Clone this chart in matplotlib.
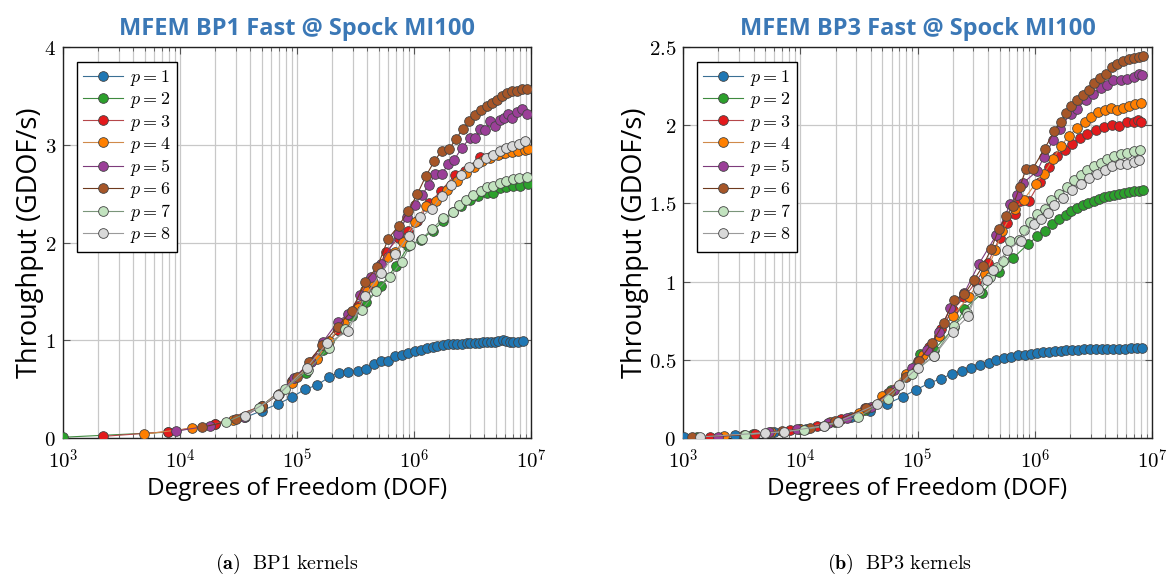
import numpy as np
import matplotlib.pyplot as plt
from matplotlib.ticker import LogLocator, FixedLocator, NullFormatter

plt.rcParams['mathtext.fontset'] = 'cm'

# ---- data (x stored as log10 of DOF, y in GDOF/s) ----
bp1_p1_x = [4.556, 4.70, 4.84, 4.96, 5.07, 5.17, 5.27, 5.36, 5.44, 5.52, 5.59, 5.66, 5.72, 5.78, 5.84,
            5.90, 5.95, 6.01, 6.06, 6.11, 6.16, 6.20, 6.25, 6.29, 6.33, 6.37, 6.41, 6.45, 6.48, 6.52,
            6.56, 6.59, 6.62, 6.66, 6.69, 6.72, 6.76, 6.79, 6.82, 6.85, 6.89, 6.93]
bp1_p1_y = [0.21, 0.28, 0.35, 0.42, 0.50, 0.54, 0.62, 0.67, 0.68, 0.69, 0.71, 0.76, 0.79, 0.79, 0.84,
            0.85, 0.87, 0.89, 0.90, 0.92, 0.93, 0.94, 0.95, 0.96, 0.96, 0.96, 0.96, 0.97, 0.97, 0.97,
            0.97, 0.98, 0.98, 0.98, 0.98, 0.99, 1.00, 0.99, 0.98, 0.98, 0.98, 0.99]
bp1_p2_x = [3.0, 3.9, 4.3, 4.7, 4.96, 5.074, 5.22, 5.35, 5.47, 5.59, 5.72, 5.846, 5.952, 6.06, 6.16,
            6.25, 6.33, 6.40, 6.479, 6.55, 6.62, 6.678, 6.735, 6.79, 6.85, 6.906, 6.974]
bp1_p2_y = [0.008, 0.06, 0.14, 0.33, 0.58, 0.665, 0.90, 1.10, 1.25, 1.39, 1.56, 1.76, 1.96, 2.03, 2.12,
            2.22, 2.31, 2.37, 2.43, 2.48, 2.51, 2.51, 2.56, 2.57, 2.58, 2.58, 2.60]
bp1_p3_x = [3.344, 3.9, 4.3, 4.7, 4.96, 5.17, 5.35, 5.52, 5.63, 5.76, 5.87, 5.948, 6.03, 6.13, 6.23,
            6.352, 6.44, 6.565, 6.65, 6.75, 6.85, 6.95]
bp1_p3_y = [0.017, 0.065, 0.14, 0.33, 0.58, 0.82, 1.10, 1.35, 1.58, 1.90, 2.05, 2.12, 2.22, 2.40, 2.53,
            2.69, 2.73, 2.87, 2.88, 2.92, 2.94, 2.96]
bp1_p4_x = [3.695, 4.1, 4.45, 4.70, 4.959, 5.169, 5.27, 5.40, 5.519, 5.582, 5.652, 5.78, 5.84, 5.902,
            6.008, 6.099, 6.192, 6.284, 6.366, 6.443, 6.517, 6.585, 6.65, 6.716, 6.778, 6.835, 6.892,
            6.946, 6.974]
bp1_p4_y = [0.04, 0.10, 0.18, 0.32, 0.566, 0.805, 0.99, 1.18, 1.33, 1.51, 1.60, 1.85, 1.90, 2.01,
            2.21, 2.37, 2.42, 2.54, 2.63, 2.71, 2.77, 2.83, 2.86, 2.90, 2.92, 2.93, 2.94, 2.95, 2.96]
bp1_p5_x = [3.966, 4.254, 4.55, 4.84, 4.973, 5.121, 5.22, 5.348, 5.44, 5.54, 5.633, 5.718, 5.866, 5.937,
            6.005, 6.068, 6.13, 6.181, 6.238, 6.292, 6.341, 6.409, 6.48, 6.525, 6.567, 6.61, 6.653,
            6.693, 6.735, 6.772, 6.801, 6.84, 6.881, 6.926, 6.963]
bp1_p5_y = [0.07, 0.126, 0.22, 0.44, 0.617, 0.78, 0.98, 1.19, 1.27, 1.46, 1.65, 1.78, 2.09, 2.26,
            2.38, 2.49, 2.59, 2.70, 2.70, 2.80, 2.84, 2.97, 3.07, 3.07, 3.16, 3.15, 3.24,
            3.19, 3.25, 3.27, 3.32, 3.27, 3.34, 3.37, 3.32]
bp1_p6_x = [4.19, 4.48, 4.70, 4.85, 5.0, 5.1, 5.215, 5.348, 5.467, 5.584, 5.687, 5.780, 5.868, 5.951,
            6.030, 6.102, 6.173, 6.238, 6.303, 6.358, 6.417, 6.474, 6.525, 6.574, 6.622, 6.667, 6.713,
            6.755, 6.798, 6.838, 6.881, 6.923, 6.963]
bp1_p6_y = [0.11, 0.19, 0.33, 0.45, 0.62, 0.78, 0.95, 1.14, 1.30, 1.60, 1.75, 2.04, 2.17, 2.32,
            2.50, 2.68, 2.83, 2.94, 2.96, 3.06, 3.16, 3.24, 3.30, 3.36, 3.40, 3.43, 3.46,
            3.50, 3.53, 3.55, 3.55, 3.57, 3.57]
bp1_p7_x = [4.39, 4.672, 4.90, 5.097, 5.27, 5.413, 5.553, 5.675, 5.795, 5.894, 5.966, 6.066, 6.157,
            6.25, 6.336, 6.385, 6.444, 6.507, 6.57, 6.627, 6.678, 6.735, 6.786, 6.843, 6.9, 6.963]
bp1_p7_y = [0.16, 0.31, 0.505, 0.70, 0.92, 1.12, 1.31, 1.50, 1.65, 1.80, 1.97, 2.04, 2.14,
            2.25, 2.31, 2.38, 2.43, 2.49, 2.53, 2.57, 2.58, 2.61, 2.63, 2.65, 2.66, 2.67]
bp1_p8_x = [4.556, 4.838, 5.083, 5.258, 5.433, 5.584, 5.718, 5.84, 5.954, 6.053, 6.15, 6.238, 6.32,
            6.4, 6.474, 6.545, 6.613, 6.673, 6.733, 6.789, 6.84, 6.895, 6.951]
bp1_p8_y = [0.23, 0.44, 0.72, 0.97, 1.09, 1.45, 1.69, 1.88, 2.07, 2.26, 2.34, 2.48, 2.59,
            2.69, 2.77, 2.81, 2.86, 2.90, 2.94, 2.97, 2.99, 3.01, 3.04]

bp3_p1_x = [3.006, 3.44, 3.773, 4.046, 4.43, 4.597, 4.74, 4.873, 4.99, 5.098, 5.2, 5.295, 5.38, 5.458,
            5.532, 5.606, 5.671, 5.737, 5.80, 5.86, 5.917, 5.971, 6.022, 6.07, 6.12, 6.17, 6.22, 6.27,
            6.32, 6.37, 6.42, 6.47, 6.52, 6.57, 6.62, 6.67, 6.72, 6.77, 6.82, 6.87, 6.915]
bp3_p1_y = [0.005, 0.017, 0.04, 0.06, 0.134, 0.173, 0.22, 0.263, 0.31, 0.35, 0.38, 0.41, 0.427, 0.449,
            0.468, 0.48, 0.496, 0.509, 0.52, 0.528, 0.534, 0.54, 0.545, 0.549, 0.553, 0.556, 0.559,
            0.561, 0.563, 0.565, 0.566, 0.567, 0.568, 0.569, 0.570, 0.571, 0.572, 0.572, 0.573,
            0.573, 0.573]
bp3_p2_x = [3.12, 3.6, 4.0, 4.3, 4.55, 4.776, 5.024, 5.137, 5.315, 5.398, 5.552, 5.694, 5.814, 5.942,
            6.022, 6.088, 6.15, 6.207, 6.264, 6.313, 6.364, 6.413, 6.458, 6.507, 6.55, 6.592, 6.635,
            6.678, 6.721, 6.763, 6.806, 6.849, 6.886, 6.923]
bp3_p2_y = [0.006, 0.025, 0.055, 0.105, 0.18, 0.305, 0.54, 0.561, 0.707, 0.827, 0.925, 1.064, 1.15,
            1.24, 1.29, 1.325, 1.37, 1.40, 1.423, 1.45, 1.47, 1.487, 1.502, 1.517, 1.53, 1.54, 1.549,
            1.556, 1.562, 1.566, 1.573, 1.577, 1.579, 1.583]
bp3_p3_x = [3.234, 3.615, 3.91, 4.14, 4.35, 4.55, 4.75, 4.9, 5.0, 5.1, 5.2, 5.3, 5.4, 5.5, 5.6, 5.7,
            5.764, 5.829, 5.87, 5.949, 6.043, 6.12, 6.191, 6.254, 6.32, 6.385, 6.448, 6.519, 6.59,
            6.662, 6.718, 6.79, 6.846, 6.88, 6.903]
bp3_p3_y = [0.009, 0.027, 0.051, 0.079, 0.12, 0.19, 0.29, 0.40, 0.49, 0.58, 0.70, 0.82, 0.90, 1.0,
            1.12, 1.28, 1.375, 1.435, 1.515, 1.515, 1.637, 1.733, 1.801, 1.84, 1.882, 1.918, 1.946,
            1.972, 1.989, 1.999, 1.997, 2.02, 2.02, 2.031, 2.02]
bp3_p4_x = [3.35, 3.75, 4.0, 4.25, 4.5, 4.7, 4.9, 5.05, 5.18, 5.3, 5.436, 5.579, 5.664, 5.721, 5.829,
            5.906, 6.006, 6.077, 6.157, 6.22, 6.29, 6.362, 6.425, 6.482, 6.539, 6.596, 6.647, 6.704,
            6.756, 6.807, 6.852, 6.903]
bp3_p4_y = [0.013, 0.04, 0.06, 0.1, 0.16, 0.27, 0.41, 0.53, 0.65, 0.78, 0.902, 1.051, 1.2, 1.322,
            1.467, 1.524, 1.627, 1.69, 1.786, 1.865, 1.931, 1.985, 2.02, 2.052, 2.084, 2.095, 2.112,
            2.095, 2.112, 2.125, 2.134, 2.145]
bp3_p5_x = [3.294, 3.733, 3.969, 4.24, 4.40, 4.6, 4.8, 4.95, 5.08, 5.18, 5.28, 5.40, 5.521, 5.67,
            5.792, 5.849, 5.90, 6.02, 6.077, 6.157, 6.214, 6.305, 6.362, 6.433, 6.499, 6.562, 6.619,
            6.67, 6.732, 6.79, 6.846, 6.892, 6.918]
bp3_p5_y = [0.009, 0.037, 0.055, 0.096, 0.13, 0.2, 0.31, 0.45, 0.56, 0.68, 0.83, 0.93, 1.11, 1.296,
            1.499, 1.556, 1.63, 1.707, 1.797, 1.903, 1.978, 2.074, 2.106, 2.159, 2.202, 2.238, 2.255,
            2.287, 2.292, 2.298, 2.308, 2.33, 2.319]
bp3_p6_x = [3.077, 3.52, 3.846, 4.08, 4.3, 4.56, 4.767, 4.9, 5.009, 5.123, 5.222, 5.308, 5.40, 5.479,
            5.556, 5.627, 5.692, 5.755, 5.812, 5.872, 5.926, 5.983, 6.083, 6.168, 6.22, 6.268, 6.311,
            6.356, 6.41, 6.462, 6.504, 6.555, 6.61, 6.655, 6.704, 6.756, 6.80, 6.846, 6.886, 6.923]
bp3_p6_y = [0.007, 0.02, 0.043, 0.064, 0.11, 0.19, 0.294, 0.39, 0.49, 0.607, 0.735, 0.88, 0.92,
            1.008, 1.098, 1.207, 1.334, 1.418, 1.483, 1.605, 1.722, 1.722, 1.85, 1.963, 2.02, 2.078,
            2.12, 2.159, 2.195, 2.227, 2.272, 2.304, 2.33, 2.372, 2.394, 2.41, 2.421, 2.43, 2.436, 2.44]
bp3_p7_x = [3.53, 4.03, 4.2, 4.496, 4.752, 4.952, 5.137, 5.308, 5.42, 5.521, 5.621, 5.678, 5.73, 5.792,
            5.863, 5.912, 5.963, 6.02, 6.083, 6.14, 6.205, 6.277, 6.333, 6.39, 6.448, 6.504, 6.562,
            6.619, 6.675, 6.732, 6.79, 6.846, 6.897]
bp3_p7_y = [0.02, 0.053, 0.075, 0.134, 0.252, 0.412, 0.522, 0.714, 0.80, 0.94, 1.03, 1.093, 1.13,
            1.258, 1.264, 1.328, 1.381, 1.435, 1.467, 1.52, 1.558, 1.605, 1.652, 1.68, 1.712, 1.737,
            1.758, 1.786, 1.801, 1.818, 1.825, 1.833, 1.844]
bp3_p8_x = [3.143, 3.70, 3.863, 4.20, 4.32, 4.653, 4.838, 5.0, 5.137, 5.3, 5.431, 5.513, 5.593, 5.645,
            5.764, 5.88, 5.992, 6.049, 6.11, 6.168, 6.243, 6.32, 6.39, 6.462, 6.533, 6.598, 6.662,
            6.727, 6.79, 6.846, 6.892]
bp3_p8_y = [0.007, 0.033, 0.039, 0.079, 0.104, 0.215, 0.337, 0.45, 0.522, 0.68, 0.778, 0.955, 1.013,
            1.072, 1.2, 1.26, 1.371, 1.403, 1.44, 1.488, 1.537, 1.584, 1.627, 1.665, 1.69, 1.716,
            1.737, 1.75, 1.754, 1.765, 1.78]

bp1_x = [bp1_p1_x, bp1_p2_x, bp1_p3_x, bp1_p4_x, bp1_p5_x, bp1_p6_x, bp1_p7_x, bp1_p8_x]
bp1_y = [bp1_p1_y, bp1_p2_y, bp1_p3_y, bp1_p4_y, bp1_p5_y, bp1_p6_y, bp1_p7_y, bp1_p8_y]
bp3_x = [bp3_p1_x, bp3_p2_x, bp3_p3_x, bp3_p4_x, bp3_p5_x, bp3_p6_x, bp3_p7_x, bp3_p8_x]
bp3_y = [bp3_p1_y, bp3_p2_y, bp3_p3_y, bp3_p4_y, bp3_p5_y, bp3_p6_y, bp3_p7_y, bp3_p8_y]

orders = [1, 2, 3, 4, 5, 6, 7, 8]
colors = ['#1f77b4', '#2ca02c', '#e31a1c', '#ff7f00', '#9b3f98', '#a65628', '#c2e3bf', '#d9d9d9']
line_colors = ['#3a6f94', '#3f8a3f', '#b5474a', '#d08a4a', '#7d3a7b', '#6e3a1e', '#7a957a', '#9a9a9a']

fig = plt.figure(figsize=(11.69, 5.80), dpi=100)
ax1 = fig.add_axes([0.0539, 0.2448, 0.4003, 0.6741])
ax2 = fig.add_axes([0.5843, 0.2448, 0.4012, 0.6741])

panels = [
    (ax1, bp1_x, bp1_y, 'MFEM BP1 Fast @ Spock MI100', [0, 1, 2, 3, 4], 4.0,
     r'$\mathbf{(a)}\ \ \mathrm{BP1\ kernels}$', 0.245),
    (ax2, bp3_x, bp3_y, 'MFEM BP3 Fast @ Spock MI100', [0, 0.5, 1, 1.5, 2, 2.5], 2.5,
     r'$\mathbf{(b)}\ \ \mathrm{BP3\ kernels}$', 0.769),
]

for ax, xs, ys, title, yticks, ymax, caption, cap_x in panels:
    for i, p in enumerate(orders):
        ax.plot(10 ** np.array(xs[i]), ys[i], '-o', color=line_colors[i], lw=0.8,
                markerfacecolor=colors[i], markeredgecolor='#444444', markeredgewidth=0.6,
                markersize=7, label=f'$p = {p}$', zorder=3)
    ax.set_xscale('log')
    ax.set_xlim(1e3, 1e7)
    ax.set_ylim(0, ymax)
    ax.xaxis.set_minor_locator(LogLocator(base=10, subs=np.arange(2, 10), numticks=100))
    ax.xaxis.set_minor_formatter(NullFormatter())
    ax.set_xticks([1e3, 1e4, 1e5, 1e6, 1e7])
    ax.set_xticklabels([r'$10^{3}$', r'$10^{4}$', r'$10^{5}$', r'$10^{6}$', r'$10^{7}$'], fontsize=15)
    ax.yaxis.set_major_locator(FixedLocator(yticks))
    ax.set_yticklabels([f'${t:g}$' for t in yticks], fontsize=15)
    ax.grid(which='major', color='#c8c8c8', lw=0.9)
    ax.grid(which='minor', axis='x', color='#c8c8c8', lw=0.9)
    ax.set_axisbelow(True)
    ax.tick_params(which='both', direction='in', top=True, right=True, color='#555555')
    ax.tick_params(axis='x', which='major', length=5, pad=8)
    ax.tick_params(axis='y', which='major', length=5, pad=5)
    ax.tick_params(which='minor', length=3)
    for s in ax.spines.values():
        s.set_color('#222222')
        s.set_linewidth(1.0)
    ax.set_title(title, fontsize=17, fontweight='bold', color='#3b78b6', family='Open Sans', pad=9)
    ax.set_xlabel('Degrees of Freedom (DOF)', fontsize=17.5, family='Open Sans', labelpad=3)
    ax.set_ylabel('Throughput (GDOF/s)', fontsize=19.5, family='Open Sans', labelpad=0)
    leg = ax.legend(loc='upper left', fontsize=13, fancybox=False, framealpha=1, edgecolor='black',
                    borderpad=0.35, labelspacing=0.12, handlelength=2.2, handletextpad=0.4,
                    bbox_to_anchor=(0.01, 0.985))
    leg.get_frame().set_linewidth(1.0)
    fig.text(cap_x, 0.027, caption, ha='center', va='center', fontsize=14.5)

fig.savefig('out.png', dpi=100)
